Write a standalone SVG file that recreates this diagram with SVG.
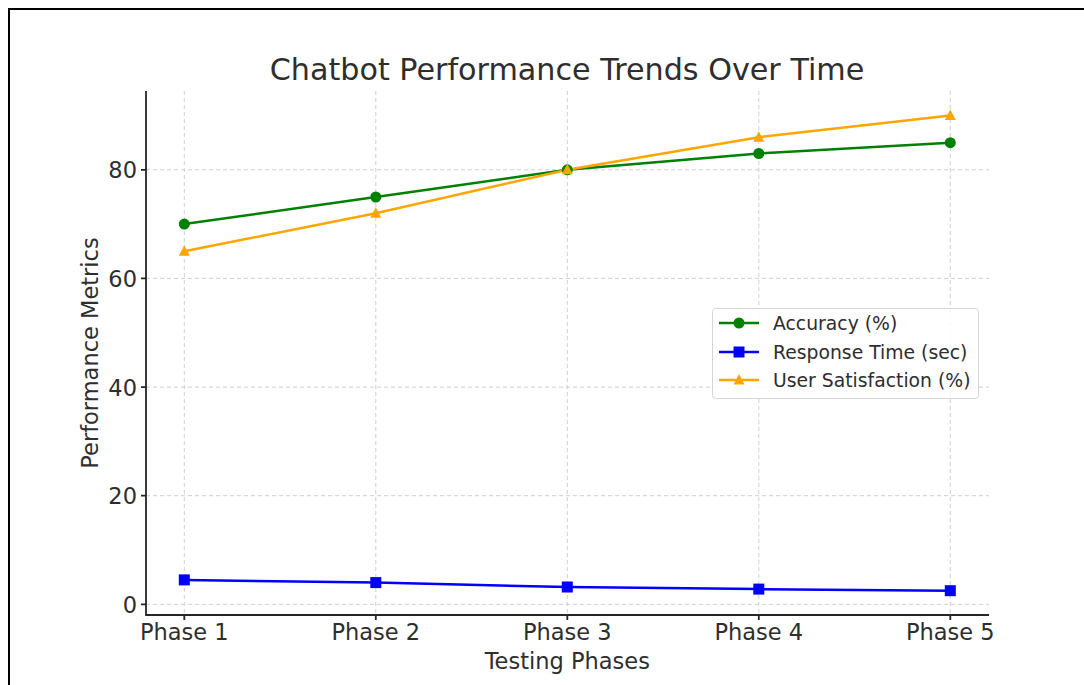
<svg xmlns="http://www.w3.org/2000/svg" width="1084" height="685" viewBox="0 0 1084 685">
<style>
.t{font-family:"DejaVu Sans",sans-serif;fill:#2e2e2e}
.grid{stroke:#cfcfcf;stroke-width:1;stroke-dasharray:4,3}
.spine{stroke:#262626;stroke-width:1.8;fill:none}
.acc{stroke:#008000;stroke-width:2.5;fill:none}
.rt{stroke:#0000ff;stroke-width:2.5;fill:none}
.us{stroke:#ffa500;stroke-width:2.5;fill:none}
</style>
<defs>
<circle id="mc" r="5.5" fill="#008000"/>
<rect id="ms" x="-5.5" y="-5.5" width="11" height="11" fill="#0000ff"/>
<polygon id="mt" points="0,-6 5.5,4.5 -5.5,4.5" fill="#ffa500"/>
</defs>
<rect width="1084" height="685" fill="#fff"/>
<rect x="9" y="9" width="1090" height="700" fill="none" stroke="#000" stroke-width="2"/>
<g id="title"><text class="t" x="567" y="80" font-size="30.2" text-anchor="middle" fill="#333">Chatbot Performance Trends Over Time</text></g>
<g id="grid">
<line class="grid" x1="184.3" y1="91" x2="184.3" y2="615"/>
<line class="grid" x1="375.8" y1="91" x2="375.8" y2="615"/>
<line class="grid" x1="567.3" y1="91" x2="567.3" y2="615"/>
<line class="grid" x1="758.8" y1="91" x2="758.8" y2="615"/>
<line class="grid" x1="950.3" y1="91" x2="950.3" y2="615"/>
<line class="grid" x1="146" y1="604.3" x2="989" y2="604.3"/>
<line class="grid" x1="146" y1="495.7" x2="989" y2="495.7"/>
<line class="grid" x1="146" y1="387.1" x2="989" y2="387.1"/>
<line class="grid" x1="146" y1="278.4" x2="989" y2="278.4"/>
<line class="grid" x1="146" y1="169.8" x2="989" y2="169.8"/>
</g>
<g id="axes">
<path class="spine" d="M146,91 V615 H989"/>
<path class="spine" d="M141,604.3H146M141,495.7H146M141,387.1H146M141,278.4H146M141,169.8H146M184.3,615V620M375.8,615V620M567.3,615V620M758.8,615V620M950.3,615V620"/>
<g class="t" font-size="22.5" text-anchor="end">
<text x="137" y="612.5">0</text>
<text x="137" y="504">20</text>
<text x="137" y="395.5">40</text>
<text x="137" y="287">60</text>
<text x="137" y="178">80</text>
</g>
<g class="t" font-size="22.5" text-anchor="middle">
<text x="184.3" y="640">Phase 1</text>
<text x="375.8" y="640">Phase 2</text>
<text x="567.3" y="640">Phase 3</text>
<text x="758.8" y="640">Phase 4</text>
<text x="950.3" y="640">Phase 5</text>
</g>
<text class="t" x="567.3" y="669" font-size="22.5" text-anchor="middle">Testing Phases</text>
<text class="t" transform="translate(98,353) rotate(-90)" font-size="22.5" text-anchor="middle">Performance Metrics</text>
</g>
<g id="connectors">
<polyline class="acc" points="184.3,224.1 375.8,197 567.3,169.8 758.8,153.5 950.3,142.7"/>
<polyline class="rt" points="184.3,579.9 375.8,582.6 567.3,587 758.8,589.1 950.3,590.7"/>
<polyline class="us" points="184.3,251.3 375.8,213.3 567.3,169.8 758.8,137.2 950.3,115.5"/>
</g>
<g id="acc-markers">
<use href="#mc" x="184.3" y="224.1"/><use href="#mc" x="375.8" y="197"/><use href="#mc" x="567.3" y="169.8"/><use href="#mc" x="758.8" y="153.5"/><use href="#mc" x="950.3" y="142.7"/>
</g>
<g id="rt-markers">
<use href="#ms" x="184.3" y="579.9"/><use href="#ms" x="375.8" y="582.6"/><use href="#ms" x="567.3" y="587"/><use href="#ms" x="758.8" y="589.1"/><use href="#ms" x="950.3" y="590.7"/>
</g>
<g id="us-markers">
<use href="#mt" x="184.3" y="251.3"/><use href="#mt" x="375.8" y="213.3"/><use href="#mt" x="567.3" y="169.8"/><use href="#mt" x="758.8" y="137.2"/><use href="#mt" x="950.3" y="115.5"/>
</g>
<g id="legend">
<rect x="712.5" y="308.5" width="266" height="90" rx="3" fill="#fff" fill-opacity="0.85" stroke="#d6d6d6" stroke-width="1"/>
<line class="acc" x1="719" y1="323" x2="759" y2="323"/><use href="#mc" x="739" y="323"/>
<line class="rt" x1="719" y1="352" x2="759" y2="352"/><use href="#ms" x="739" y="352"/>
<line class="us" x1="719" y1="380" x2="759" y2="380"/><use href="#mt" x="739" y="380"/>
<g class="t" font-size="18.8">
<text x="773" y="329.5">Accuracy (%)</text>
<text x="773" y="358.5">Response Time (sec)</text>
<text x="773" y="386.5">User Satisfaction (%)</text>
</g>
</g>
</svg>
